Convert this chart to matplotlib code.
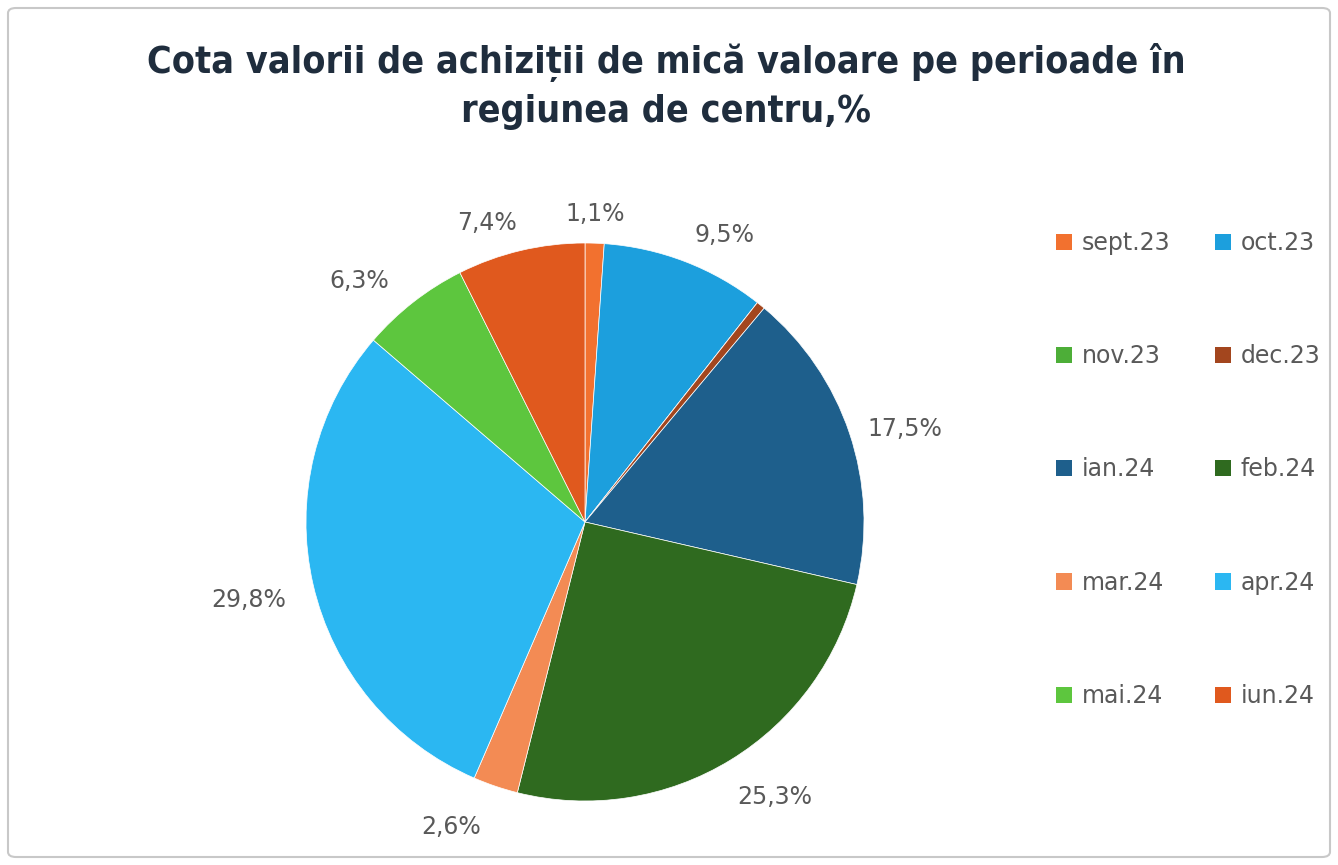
import matplotlib
matplotlib.use("Agg")
import matplotlib.pyplot as plt
from matplotlib.patches import FancyBboxPatch, Patch
import numpy as np

categories = ["sept.23", "oct.23", "nov.23", "dec.23", "ian.24", "feb.24",
              "mar.24", "apr.24", "mai.24", "iun.24"]
values = [1.1, 9.5, 0.0, 0.5, 17.5, 25.3, 2.6, 29.8, 6.3, 7.4]
labels = ["1,1%", "9,5%", "", "", "17,5%", "25,3%", "2,6%", "29,8%", "6,3%", "7,4%"]
colors = ["#F2712F", "#1C9FDD", "#4DAE38", "#A3461E", "#1E5F8C", "#2F6A1F",
          "#F38B54", "#2BB7F2", "#5DC63E", "#E0591E"]

W, H = 1338, 865
fig = plt.figure(figsize=(W / 100, H / 100), dpi=100)
fig.patch.set_facecolor("white")

# border
border = FancyBboxPatch((8 / W, 8 / H), (W - 16) / W, (H - 16) / H,
                        boxstyle="round,pad=0,rounding_size=0.006",
                        transform=fig.transFigure, facecolor="none",
                        edgecolor="#C8C8C8", linewidth=1.5)
fig.patches.append(border)

title_kw = dict(ha="center", va="center", fontsize=27, fontweight="bold",
                color="#1F2D3D", family="DejaVu Sans", fontstretch="condensed")
fig.text(0.498, 1 - 62 / H, "Cota valorii de achiziții de mică valoare pe perioade în", **title_kw)
fig.text(0.498, 1 - 112 / H, "regiunea de centru,%", **title_kw)

cx, cy, r = 585, 522, 279
ax = fig.add_axes([(cx - r) / W, (H - cy - r) / H, 2 * r / W, 2 * r / H])
wedges, _ = ax.pie(values, colors=colors, startangle=90, counterclock=False,
                   wedgeprops=dict(edgecolor="white", linewidth=0.5))
ax.set_xlim(-1, 1)
ax.set_ylim(-1, 1)
ax.set_aspect("equal")
ax.axis("off")

for w, lab in zip(wedges, labels):
    if not lab:
        continue
    ang = np.deg2rad((w.theta1 + w.theta2) / 2)
    c, s = np.cos(ang), np.sin(ang)
    x = 1.1 * c + (33 / r) * np.clip(3 * c, -1, 1) - 4 / r
    y = 1.1 * s + (8 / r) * s - 7 / r
    ax.text(x, y, lab, ha="center", va="center",
            fontsize=17, color="#595959", clip_on=False)

# legend in row-major order across two columns
order = [0, 2, 4, 6, 8, 1, 3, 5, 7, 9]
handles = [Patch(facecolor=colors[i], edgecolor="none") for i in order]
leg_labels = [categories[i] for i in order]
fig.legend(handles, leg_labels, ncol=2, loc="upper left",
           bbox_to_anchor=(1056 / W, 1 - 231 / H), frameon=False,
           fontsize=17, labelcolor="#595959", labelspacing=3.78,
           handlelength=0.68, handleheight=0.68, handletextpad=0.4,
           columnspacing=1.9, borderaxespad=0, borderpad=0)

fig.savefig("out.png", dpi=100)
